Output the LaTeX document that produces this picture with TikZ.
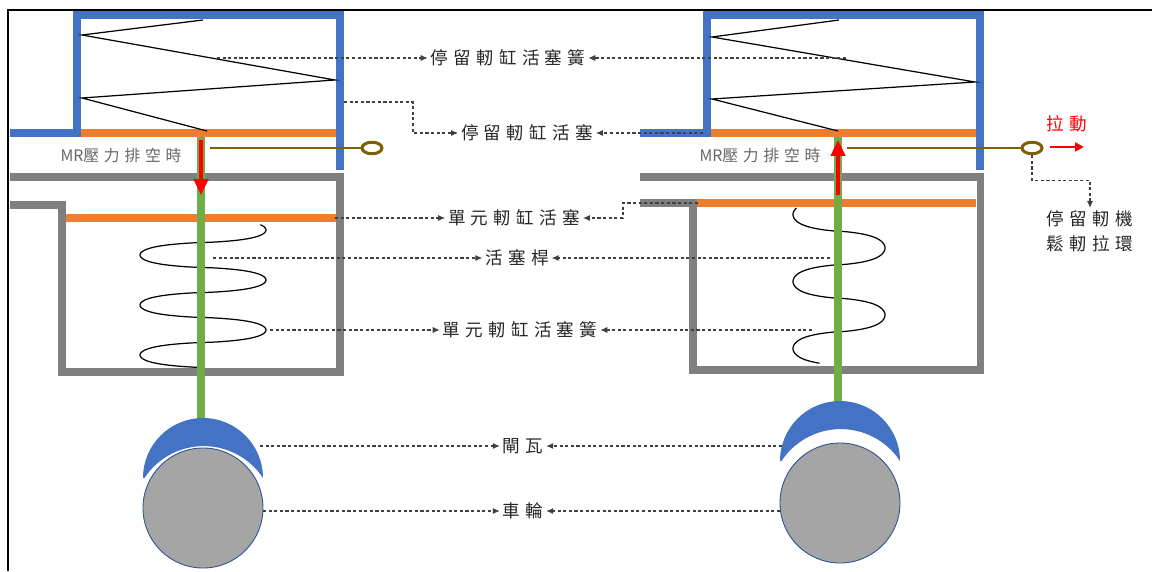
\documentclass[tikz,border=0pt]{standalone}
\usepackage{fontspec}
\newfontfamily\cjk[LetterSpace=30]{Noto Sans CJK TC}
\newfontfamily\cjktight{Noto Sans CJK TC}
\usetikzlibrary{arrows.meta,shapes.geometric}

\definecolor{pblue}{HTML}{4472C4}
\definecolor{porange}{HTML}{ED7D31}
\definecolor{pgray}{HTML}{7F7F7F}
\definecolor{pgreen}{HTML}{70AD47}
\definecolor{pbrown}{HTML}{7F6000}
\definecolor{pwheel}{HTML}{A5A5A5}
\definecolor{pedge}{HTML}{2F528F}

% helix seen from the side: #1,#2 centre x / first lobe y, #3 radius, #4:#5 turn angle
\newcommand{\helixpitch}{50}
\newcommand{\helix}[5]{%
  \draw[coil] plot[domain=#4:#5, samples=240, smooth]
    ({#1+#3*cos(\x r)/(abs(cos(\x r))+0.0001)^0.3},
     {#2+\helixpitch*\x/6.2832+0.03*\helixpitch*sin(2*\x r)});}

\begin{document}
\begin{tikzpicture}
[x=0.02cm, y=-0.02cm, font=\cjk\fontsize{10}{14}\selectfont,
bluewall/.style={draw=pblue, line width=4.5pt},
graywall/.style={draw=pgray, line width=4pt},
piston/.style={draw=porange, line width=4.5pt},
rod/.style={draw=pgreen, line width=4.5pt},
coil/.style={draw=black, line width=0.7pt},
shoe/.style={fill=pblue},
wheel/.style={fill=pwheel, draw=pedge, line width=0.5pt},
link/.style={draw=pbrown, line width=1.7pt},
ring/.style={ellipse, draw=pbrown, line width=1.7pt, minimum width=0.40cm, minimum height=0.23cm, inner sep=0pt},
force/.style={draw=red, line width=2.2pt, -{Triangle[length=9pt,width=8pt]}},
pull/.style={draw=red, line width=1.6pt, -{Triangle[length=5pt,width=5pt]}},
leader/.style={draw=black!75, line width=0.6pt, dash pattern=on 1.8pt off 1.4pt, -{Latex[length=4pt,width=3.5pt]}},
lbl/.style={inner sep=1.5pt, text=black!85},
mrlbl/.style={inner sep=0pt, text=black!60, font=\cjk\fontsize{9}{11}\selectfont}]

\useasboundingbox (0,0) rectangle (1152,571);
\draw[line width=1.7pt] (8,571) -- (8,10) -- (1152,10);

% left unit
\draw[bluewall] (10,133) -- (77,133) -- (77,15) -- (340,15) -- (340,170);
\draw[piston] (81,133) -- (336,133);
\draw[coil] (203,20) -- (82,35) -- (335,80) -- (82,98) -- (207,131);
\draw[graywall] (10,177) -- (340,177) -- (340,372) -- (62,372) -- (62,205) -- (10,205);
\draw[piston] (66,218) -- (336,218);
\renewcommand{\helixpitch}{50}
\helix{203}{230}{63}{-0.5}{17.28}
\draw[rod] (201,137) -- (201,420);
\draw[force] (201,140) -- (201,195);
\coordinate (linkL) at (210,148);
\node[ring] (ringL) at (372,148) {};
\draw[link] (linkL) -- (ringL.west);
\node[mrlbl] (mrL) at (121,155) {{\cjktight MR}壓力排空時};
\fill[shoe] (143,478) arc[start angle=180, end angle=360, radius=60]
  arc[start angle=326.6, end angle=213.4, radius=71] -- cycle;
\draw[wheel] (203,508) circle[radius=60];

% right unit
\draw[bluewall] (640,133) -- (707,133) -- (707,15) -- (980,15) -- (980,170);
\draw[piston] (711,133) -- (976,133);
\draw[coil] (839,20) -- (712,37) -- (975,82) -- (712,99) -- (838,131);
\draw[graywall] (640,177) -- (980,177) -- (980,370) -- (693,370) -- (693,203) -- (640,203);
\draw[piston] (697,203) -- (976,203);
\renewcommand{\helixpitch}{67}
\helix{839}{248}{46}{-3.6}{10.7}
\draw[rod] (838,137) -- (838,402);
\draw[force] (838,195) -- (838,140);
\coordinate (linkR) at (847,148);
\node[ring] (ringR) at (1032,148) {};
\draw[link] (linkR) -- (ringR.west);
\node[mrlbl] (mrR) at (760,155) {{\cjktight MR}壓力排空時};
\fill[shoe] (780,461) arc[start angle=180, end angle=360, radius=60]
  arc[start angle=326.6, end angle=213.4, radius=71] -- cycle;
\draw[wheel] (840,503) circle[radius=60];

\coordinate (pullA) at (1050,147);
\coordinate (pullB) at (1084,147);
\draw[pull] (pullA) -- (pullB);
\node[lbl, text=red] (pulllbl) at (1067,124) {拉動};

% labels in the middle
\node[lbl] (springtop) at (508,58) {停留軔缸活塞簧};
\node[lbl] (pistontop) at (527,133) {停留軔缸活塞};
\node[lbl] (pistonlow) at (514,218) {單元軔缸活塞};
\node[lbl] (rodlbl) at (517,258) {活塞桿};
\node[lbl] (springlow) at (520,330) {單元軔缸活塞簧};
\node[lbl] (shoelbl) at (523,446) {閘瓦};
\node[lbl] (wheellbl) at (523,511) {車輪};
\node[lbl, align=center, anchor=north] (ringlbl) at (1090,208) {停留軔機\\鬆軔拉環};

\coordinate (sprTopL) at (217,58);
\coordinate (sprTopR) at (846,58);
\coordinate (pisTopL) at (344,102);
\coordinate (bendA) at (413,102);
\coordinate (pisTopR) at (703,133);
\coordinate (pisLowL) at (335,218);
\coordinate (pisLowR) at (698,203);
\coordinate (bendB) at (623,203);
\coordinate (rodL) at (213,258);
\coordinate (rodR) at (830,258);
\coordinate (sprLowL) at (270,330);
\coordinate (sprLowR) at (812,330);
\coordinate (shoeL) at (260,446);
\coordinate (shoeR) at (782,446);
\coordinate (wheelL) at (263,511);
\coordinate (wheelR) at (780,511);

\draw[leader] (sprTopL) -- (springtop.west);
\draw[leader] (sprTopR) -- (springtop.east);
\draw[leader] (pisTopL) -- (bendA) |- (pistontop.west);
\draw[leader] (pisTopR) -- (pistontop.east);
\draw[leader] (pisLowL) -- (pistonlow.west);
\draw[leader] (pisLowR) -- (bendB) |- (pistonlow.east);
\draw[leader] (rodL) -- (rodlbl.west);
\draw[leader] (rodR) -- (rodlbl.east);
\draw[leader] (sprLowL) -- (springlow.west);
\draw[leader] (sprLowR) -- (springlow.east);
\draw[leader] (shoeL) -- (shoelbl.west);
\draw[leader] (shoeR) -- (shoelbl.east);
\draw[leader] (wheelL) -- (wheellbl.west);
\draw[leader] (wheelR) -- (wheellbl.east);
\draw[leader] (ringR.south) -- ++(0,25) -| (ringlbl.north);
\end{tikzpicture}
\end{document}
